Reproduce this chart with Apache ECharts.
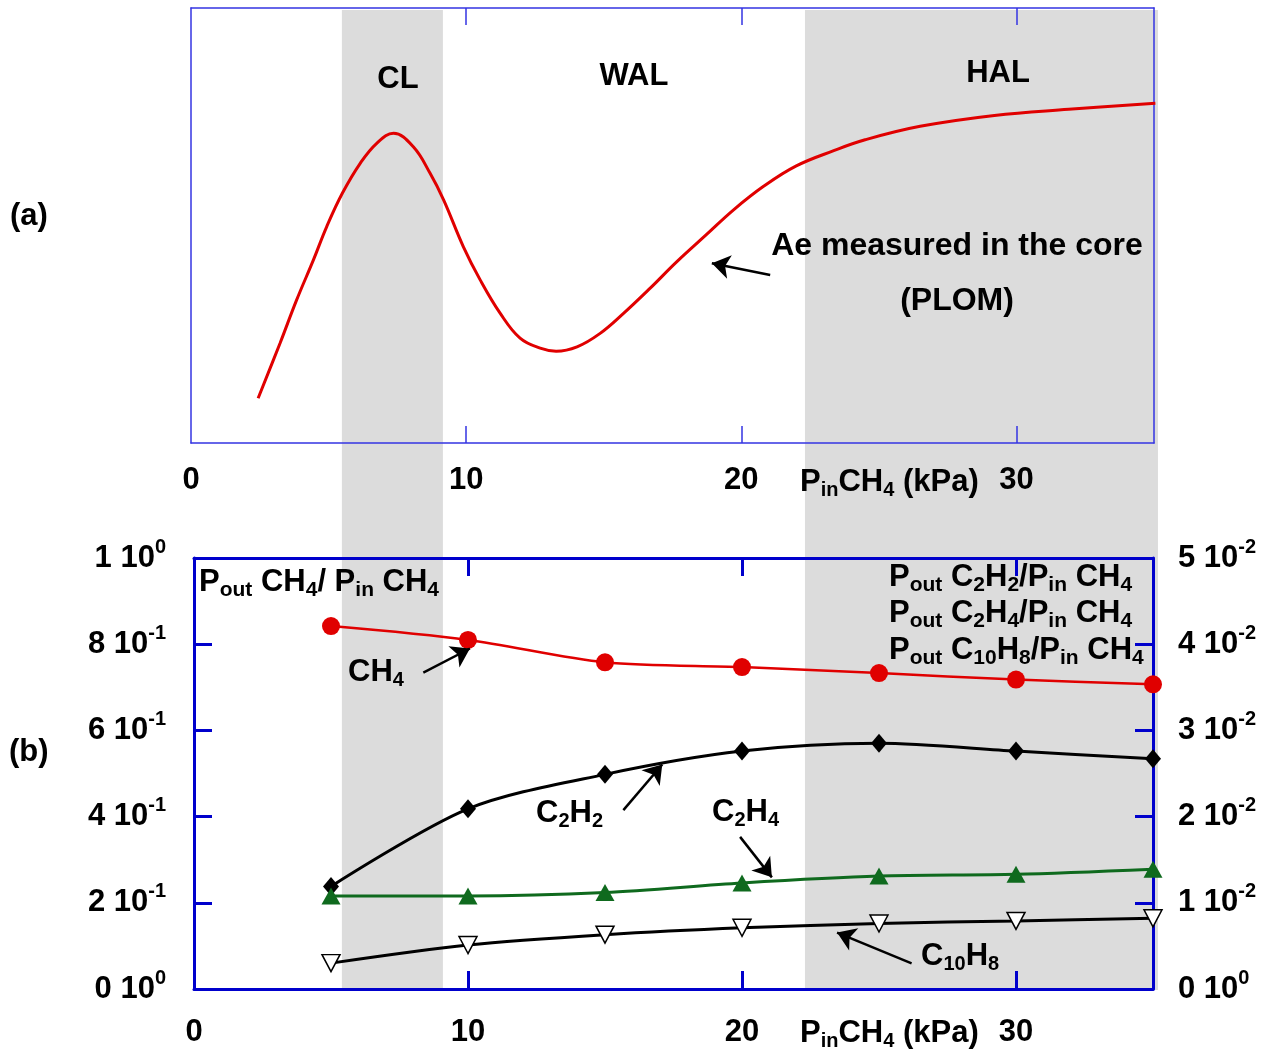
<!DOCTYPE html>
<html><head><meta charset="utf-8">
<script src="https://cdn.jsdelivr.net/npm/echarts@6/dist/echarts.min.js"></script>
<style>html,body{margin:0;padding:0;background:#fff}#c{width:1275px;height:1053px}</style>
</head><body><div id="c"></div>
<script>
const FONT = '"Liberation Sans", Arial, Helvetica, sans-serif';

// ---- Panel (a): Ae measured in the core (PLOM), arbitrary units ----
const aeX = [2.44, 3.24, 3.84, 4.45, 4.93, 5.50, 6.15, 6.75, 7.36, 8.08, 8.69, 9.18, 9.90, 10.51, 11.24, 11.96, 12.69, 13.27, 14.03, 14.87, 15.72, 16.69, 17.66, 18.75, 19.72, 20.81, 22.0, 23.36, 24.5, 26.5, 29.2, 31.9, 35.05];
const aeY = [10.3, 23.0, 32.9, 42.1, 49.7, 57.4, 64.3, 68.9, 71.2, 68.1, 62.0, 55.9, 45.1, 37.5, 29.8, 24.1, 21.8, 21.1, 22.1, 25.2, 29.8, 35.6, 41.7, 48.0, 53.6, 59.0, 63.7, 67.2, 69.7, 72.8, 75.3, 76.7, 78.1];

// ---- Panel (b): outlet / inlet pressure ratios ----
const pInCH4 = [5, 10, 15, 20, 25, 30, 35];
const ch4Ratio   = [0.842, 0.810, 0.758, 0.747, 0.733, 0.718, 0.707];
const c2h2Ratio  = [0.0119, 0.0209, 0.0249, 0.0276, 0.0285, 0.0276, 0.0267];
const c2h4Ratio  = [0.0108, 0.0108, 0.0112, 0.0123, 0.0131, 0.0133, 0.0139];
const c10h8Ratio = [0.0030, 0.0051, 0.0063, 0.0071, 0.0076, 0.0079, 0.0082];

// ---- Tick labels ----
const xTickLabels = ['0', '10', '20', '30'];
const leftTickMant = ['0', '2', '4', '6', '8', '1'];
const leftTickExp  = ['0', '-1', '-1', '-1', '-1', '0'];
const rightTickMant = ['0', '1', '2', '3', '4', '5'];
const rightTickExp  = ['0', '-2', '-2', '-2', '-2', '-2'];

// ---- Regimes (shaded) ----
const regionCL  = [5.46, 9.14];
const regionHAL = [22.33, 35.19];

// ---- Annotation arrows (data coordinates) ----
const arrowAe   = [[21.05, 38.6], [18.93, 41.3]];
const arrowCH4  = [[8.37, 0.734], [10.07, 0.790]];
const arrowC2H2 = [[15.67, 0.415], [17.09, 0.521]];
const arrowC2H4 = [[19.93, 0.353], [21.09, 0.259]];
const arrowC10H8 = [[26.19, 0.0596], [23.47, 0.131]];

const BLUE_A = '#3535e2';
const BLUE_B = '#0000cc';
const RED = '#e00000';
const GREEN = '#0f6a1e';

const chart = echarts.init(document.getElementById('c'), null, {renderer: 'canvas'});

function xLabelFmt(v) { const i = Math.round(v / 10); return (Math.abs(v - i * 10) < 1e-6 && xTickLabels[i] !== undefined) ? xTickLabels[i] : ''; }

const tickLab = {fontSize: 31, fontWeight: 'bold', fontFamily: FONT, color: '#000'};
const supRich = {
  n: {fontSize: 31, fontWeight: 'bold', fontFamily: FONT, color: '#000', lineHeight: 42},
  s: {fontSize: 20, fontWeight: 'bold', fontFamily: FONT, color: '#000', lineHeight: 20, verticalAlign: 'top'}
};

function xAxisDef(gridIndex, position, color, width, tickLen, showLabel, margin) {
  return {
    type: 'value', gridIndex, position, min: 0, max: 35, interval: 10,
    axisLine: {show: true, onZero: false, lineStyle: {color, width}},
    axisTick: {show: true, inside: true, length: tickLen, customValues: [10, 20, 30], lineStyle: {color, width}},
    axisLabel: showLabel ? Object.assign({show: true, margin, customValues: [0, 10, 20, 30], formatter: xLabelFmt}, tickLab) : {show: false},
    splitLine: {show: false}
  };
}

function arrowLine(a) {
  return [{coord: a[0]}, {coord: a[1]}];
}
const arrowStyle = {
  silent: true, symbol: ['none', 'arrow'], symbolSize: 18,
  lineStyle: {color: '#000', width: 2.5, type: 'solid'}, itemStyle: {color: '#000'},
  label: {show: false}, emphasis: {disabled: true}, animation: false
};

function rt(x, y, text, rich, align) {
  return {type: 'text', x, y, z: 100, silent: true,
    style: {text, rich, align: align || 'left', verticalAlign: 'middle', fill: '#000', fontFamily: FONT, fontWeight: 'bold'}};
}
function richSet(main, sub) {
  return {
    m: {fontSize: main, fontWeight: 'bold', fontFamily: FONT, color: '#000', lineHeight: Math.round(main * 1.2)},
    b: {fontSize: sub, fontWeight: 'bold', fontFamily: FONT, color: '#000', lineHeight: sub, verticalAlign: 'bottom'}
  };
}
const R31 = richSet(31, 20);
const RL = richSet(31, 21);

const yAxisPlain = (gridIndex, position) => ({
  type: 'value', gridIndex, position, min: 0, max: 100,
  axisLine: {show: true, onZero: false, lineStyle: {color: BLUE_A, width: 1.5}},
  axisTick: {show: false}, axisLabel: {show: false}, splitLine: {show: false}
});

const option = {
  animation: false,
  backgroundColor: '#fff',
  grid: [
    {left: 191, right: 121, top: 8, height: 435},
    {left: 194, right: 122, top: 558, height: 431},
    {left: 192, top: 10, height: 980, width: 988.2}
  ],
  xAxis: [
    xAxisDef(0, 'bottom', BLUE_A, 1.5, 17, true, 22),
    xAxisDef(0, 'top', BLUE_A, 1.5, 17, false, 0),
    xAxisDef(1, 'bottom', BLUE_B, 3, 18, true, 28),
    xAxisDef(1, 'top', BLUE_B, 3, 18, false, 0),
    {type: 'value', gridIndex: 2, min: 0, max: 36, show: false}
  ],
  yAxis: [
    yAxisPlain(0, 'left'),
    yAxisPlain(0, 'right'),
    {type: 'value', gridIndex: 1, position: 'left', min: 0, max: 1, interval: 0.2,
      axisLine: {show: true, onZero: false, lineStyle: {color: BLUE_B, width: 3}},
      axisTick: {show: true, inside: true, length: 18, lineStyle: {color: BLUE_B, width: 3}},
      axisLabel: {show: true, margin: 28, rich: supRich, formatter: v => { const i = Math.round(v / 0.2); return '{n|' + leftTickMant[i] + ' 10}{s|' + leftTickExp[i] + '}'; }},
      splitLine: {show: false}},
    {type: 'value', gridIndex: 1, position: 'right', min: 0, max: 0.05, interval: 0.01,
      axisLine: {show: true, onZero: false, lineStyle: {color: BLUE_B, width: 3}},
      axisTick: {show: true, inside: true, length: 18, lineStyle: {color: BLUE_B, width: 3}},
      axisLabel: {show: true, margin: 25, rich: supRich, formatter: v => { const i = Math.round(v / 0.01); return '{n|' + rightTickMant[i] + ' 10}{s|' + rightTickExp[i] + '}'; }},
      splitLine: {show: false}},
    {type: 'value', gridIndex: 2, min: 0, max: 1, show: false}
  ],
  series: [
    {
      name: 'regimes', type: 'line', xAxisIndex: 4, yAxisIndex: 4, z: -5,
      data: [[0, 0]], showSymbol: false, symbol: 'none', lineStyle: {opacity: 0}, silent: true,
      markArea: {silent: true, z: -5, itemStyle: {color: '#dcdcdc'}, label: {show: false},
        data: [[{xAxis: regionCL[0]}, {xAxis: regionCL[1]}], [{xAxis: regionHAL[0]}, {xAxis: regionHAL[1]}]]}
    },
    {
      name: 'Ae', type: 'line', xAxisIndex: 0, yAxisIndex: 0, smooth: 0.4, showSymbol: false, symbol: 'none',
      data: aeX.map((x, i) => [x, aeY[i]]),
      lineStyle: {color: RED, width: 3},
      markLine: Object.assign({data: [arrowLine(arrowAe)]}, arrowStyle)
    },
    {
      name: 'CH4', type: 'line', xAxisIndex: 2, yAxisIndex: 2, smooth: 0.3,
      data: pInCH4.map((x, i) => [x, ch4Ratio[i]]),
      symbol: 'circle', symbolSize: 18, itemStyle: {color: RED}, lineStyle: {color: RED, width: 2.5},
      markLine: Object.assign({data: [arrowLine(arrowCH4), arrowLine(arrowC2H2), arrowLine(arrowC2H4), arrowLine(arrowC10H8)]}, arrowStyle)
    },
    {
      name: 'C2H2', type: 'line', xAxisIndex: 2, yAxisIndex: 3, smooth: 0.3,
      data: pInCH4.map((x, i) => [x, c2h2Ratio[i]]),
      symbol: 'diamond', symbolSize: [16, 19], itemStyle: {color: '#000'}, lineStyle: {color: '#000', width: 3}
    },
    {
      name: 'C2H4', type: 'line', xAxisIndex: 2, yAxisIndex: 3, smooth: 0.3,
      data: pInCH4.map((x, i) => [x, c2h4Ratio[i]]),
      symbol: 'triangle', symbolSize: [19, 17], itemStyle: {color: GREEN}, lineStyle: {color: GREEN, width: 3}
    },
    {
      name: 'C10H8', type: 'line', xAxisIndex: 2, yAxisIndex: 3, smooth: 0.3,
      data: pInCH4.map((x, i) => [x, c10h8Ratio[i]]),
      symbol: 'triangle', symbolRotate: 180, symbolSize: [18, 17],
      itemStyle: {color: '#fff', borderColor: '#000', borderWidth: 1.5}, lineStyle: {color: '#000', width: 3}
    }
  ],
  graphic: [
    rt(398, 79, '{m|CL}', R31, 'center'),
    rt(634, 76, '{m|WAL}', R31, 'center'),
    rt(998, 73, '{m|HAL}', R31, 'center'),
    rt(957, 246, '{m|Ae measured in the core}', richSet(32, 20), 'center'),
    rt(957, 301, '{m|(PLOM)}', richSet(32, 20), 'center'),
    rt(10, 216, '{m|(a)}', R31, 'left'),
    rt(9, 752, '{m|(b)}', R31, 'left'),
    rt(800, 482, '{m|P}{b|in}{m|CH}{b|4}{m| (kPa)}', R31, 'left'),
    rt(800, 1033, '{m|P}{b|in}{m|CH}{b|4}{m| (kPa)}', R31, 'left'),
    rt(199, 582, '{m|P}{b|out}{m| CH}{b|4}{m|/ P}{b|in}{m| CH}{b|4}', RL, 'left'),
    rt(889, 577, '{m|P}{b|out}{m| C}{b|2}{m|H}{b|2}{m|/P}{b|in}{m| CH}{b|4}', RL, 'left'),
    rt(889, 613, '{m|P}{b|out}{m| C}{b|2}{m|H}{b|4}{m|/P}{b|in}{m| CH}{b|4}', RL, 'left'),
    rt(889, 650, '{m|P}{b|out}{m| C}{b|10}{m|H}{b|8}{m|/P}{b|in}{m| CH}{b|4}', RL, 'left'),
    rt(348, 672, '{m|CH}{b|4}', R31, 'left'),
    rt(536, 813, '{m|C}{b|2}{m|H}{b|2}', R31, 'left'),
    rt(712, 812, '{m|C}{b|2}{m|H}{b|4}', R31, 'left'),
    rt(921, 956, '{m|C}{b|10}{m|H}{b|8}', R31, 'left')
  ]
};
chart.setOption(option);
</script>
</body></html>
